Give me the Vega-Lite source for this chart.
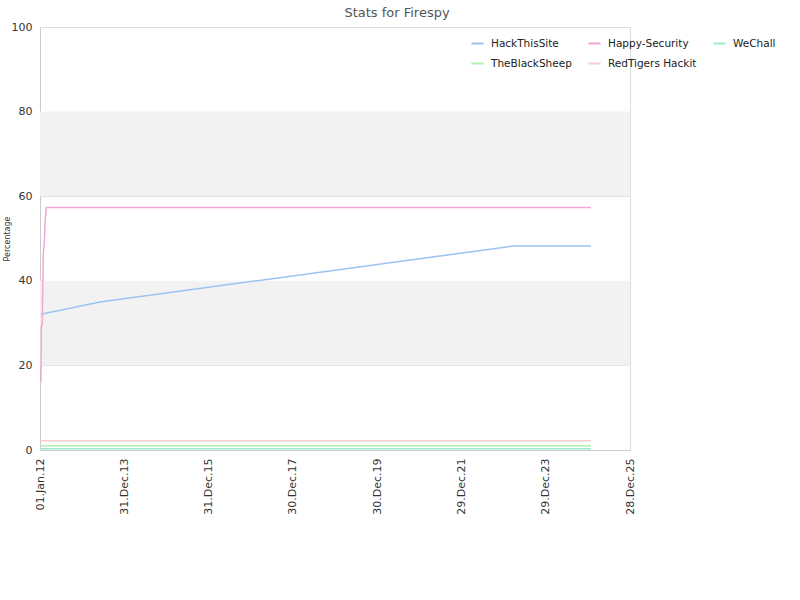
{
  "$schema": "https://vega.github.io/schema/vega-lite/v6.json",
  "autosize": {"type": "none"},
  "width": 590,
  "height": 423,
  "padding": {"left": 40, "top": 27, "right": 170, "bottom": 150},
  "background": "white",
  "title": {"text": "Stats for Firespy", "anchor": "middle", "frame": "group", "dx": 62, "offset": 1, "fontSize": 13, "fontWeight": "normal", "color": "#555555", "font": "DejaVu Sans"},
  "config": {
    "view": {"stroke": "#dddddd"},
    "font": "DejaVu Sans"
  },
  "datasets": {
    "bands": [
      {"lo": 20, "hi": 40},
      {"lo": 60, "hi": 80}
    ],
    "series": [
      {"site": "HackThisSite", "date": "2012-01-08", "pct": 32.1},
      {"site": "HackThisSite", "date": "2013-06-04", "pct": 35.0},
      {"site": "HackThisSite", "date": "2023-03-21", "pct": 48.2},
      {"site": "HackThisSite", "date": "2025-01-24", "pct": 48.2},
      {"site": "Happy-Security", "date": "2012-01-09", "pct": 16.1},
      {"site": "Happy-Security", "date": "2012-01-12", "pct": 29.0},
      {"site": "Happy-Security", "date": "2012-01-21", "pct": 30.0},
      {"site": "Happy-Security", "date": "2012-01-24", "pct": 37.2},
      {"site": "Happy-Security", "date": "2012-01-30", "pct": 46.6},
      {"site": "Happy-Security", "date": "2012-02-07", "pct": 49.0},
      {"site": "Happy-Security", "date": "2012-02-16", "pct": 54.6},
      {"site": "Happy-Security", "date": "2012-02-25", "pct": 57.3},
      {"site": "Happy-Security", "date": "2025-01-24", "pct": 57.3},
      {"site": "WeChall", "date": "2012-01-03", "pct": 0.3},
      {"site": "WeChall", "date": "2025-01-24", "pct": 0.3},
      {"site": "TheBlackSheep", "date": "2012-01-10", "pct": 1.0},
      {"site": "TheBlackSheep", "date": "2025-01-24", "pct": 1.0},
      {"site": "RedTigers Hackit", "date": "2012-01-03", "pct": 2.2},
      {"site": "RedTigers Hackit", "date": "2025-01-24", "pct": 2.2}
    ]
  },
  "layer": [
    {
      "data": {"name": "bands"},
      "mark": {"type": "rect", "fill": "#f2f2f2"},
      "encoding": {
        "y": {"field": "lo", "type": "quantitative", "scale": {"domain": [0, 100]}},
        "y2": {"field": "hi"}
      }
    },
    {
      "data": {"name": "series"},
      "mark": {"type": "line", "strokeWidth": 1.5, "interpolate": "linear"},
      "encoding": {
        "x": {
          "field": "date", "type": "temporal",
          "scale": {"type": "utc", "domain": [{"year": 2012, "month": 1, "date": 1, "utc": true}, {"year": 2025, "month": 12, "date": 28, "utc": true}]},
          "axis": {
            "title": null,
            "values": [
              {"year": 2012, "month": 1, "date": 1, "utc": true},
              {"year": 2013, "month": 12, "date": 31, "utc": true},
              {"year": 2015, "month": 12, "date": 31, "utc": true},
              {"year": 2017, "month": 12, "date": 30, "utc": true},
              {"year": 2019, "month": 12, "date": 30, "utc": true},
              {"year": 2021, "month": 12, "date": 29, "utc": true},
              {"year": 2023, "month": 12, "date": 29, "utc": true},
              {"year": 2025, "month": 12, "date": 28, "utc": true}
            ],
            "labelExpr": "utcFormat(datum.value, '%d.%b.%y')",
            "labelAngle": 270,
            "labelFontSize": 11,
            "labelColor": "#333333",
            "labelPadding": 8,
            "ticks": false,
            "grid": false,
            "domainColor": "#cccccc",
            "labelFlush": false,
            "labelOverlap": false
          }
        },
        "y": {
          "field": "pct", "type": "quantitative",
          "scale": {"domain": [0, 100]},
          "axis": {
            "title": "Percentage",
            "titleFontSize": 8,
            "titleFontWeight": "normal",
            "titleColor": "#333333",
            "titlePadding": 0,
            "values": [0, 20, 40, 60, 80, 100],
            "labelFontSize": 11,
            "labelColor": "#333333",
            "labelPadding": 8,
            "ticks": false,
            "gridColor": "#dddddd",
            "domainColor": "#cccccc"
          }
        },
        "color": {
          "field": "site", "type": "nominal",
          "scale": {
            "domain": ["HackThisSite", "TheBlackSheep", "Happy-Security", "RedTigers Hackit", "WeChall"],
            "range": ["#9cc3f0", "#aef0ab", "#f2a6d3", "#f9cfd0", "#a0e8cc"]
          },
          "legend": {
            "title": null,
            "orient": "none",
            "legendX": 430,
            "legendY": 9,
            "columns": 3,
            "symbolType": "stroke",
            "symbolSize": 150,
            "symbolStrokeWidth": 2,
            "labelFontSize": 10.5,
            "labelColor": "#222222",
            "labelOffset": 6,
            "columnPadding": 12,
            "rowPadding": 7,
            "gridAlign": "each"
          }
        }
      }
    }
  ]
}
